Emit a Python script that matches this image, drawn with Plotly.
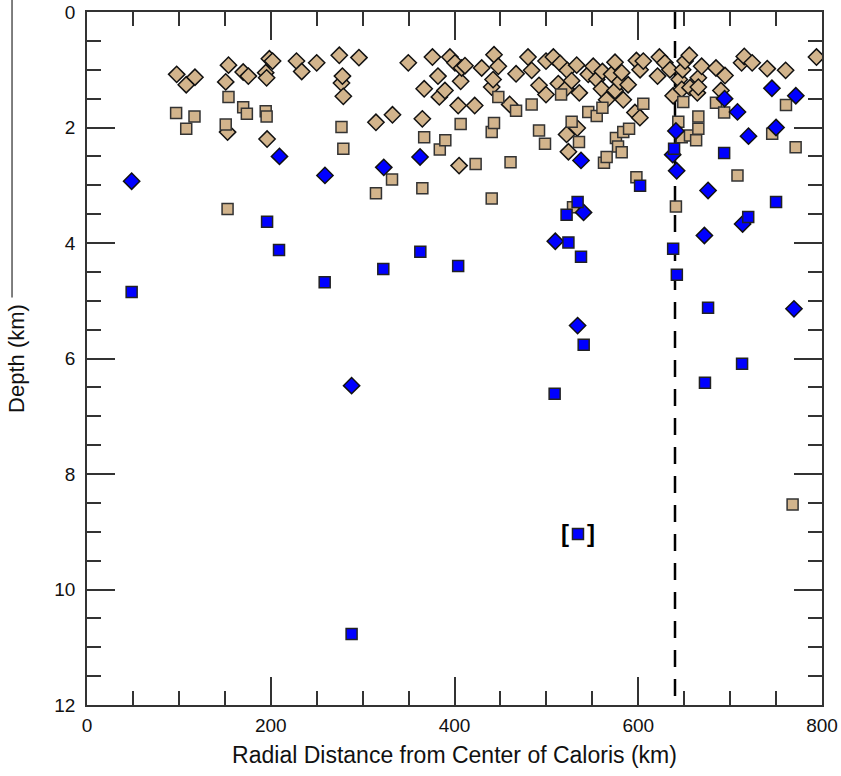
import plotly.graph_objects as go

# ---------------- data (radial distance km, depth km) ----------------
tan_sq_km = [97, 108, 117, 151, 153, 154, 170, 174, 194.5, 195.5, 277, 279, 314.5, 332, 365, 367,
             384, 390, 406.7, 423, 440.5, 440.5, 443, 447.7, 461, 467, 484, 492, 498.5, 516, 527.5,
             529, 535.5, 545.6, 554.8, 561, 562.7, 565.6, 575.7, 578, 582, 583.7, 590, 598, 605.5,
             641, 643.6, 647.3, 649, 656.3, 663, 665.4, 665.4, 684.6, 693.5, 708, 745.8, 760.8,
             771.3, 768]
tan_sq_depth = [1.75, 2.02, 1.81, 1.95, 3.41, 1.47, 1.65, 1.76, 1.72, 1.81, 1.99, 2.37, 3.14, 2.90, 3.05, 2.17,
                2.38, 2.22, 1.94, 2.63, 3.23, 2.08, 1.92, 1.47, 2.60, 1.71, 1.60, 2.05, 2.28, 1.43, 1.90,
                3.38, 2.25, 1.73, 1.80, 1.66, 2.61, 2.51, 2.18, 2.33, 2.43, 2.08, 2.02, 2.86, 1.59,
                3.37, 1.90, 2.17, 1.56, 2.14, 2.22, 1.81, 2.02, 1.57, 1.74, 2.83, 2.11, 1.61,
                2.34, 8.53]

tan_di_km = [97.6, 108, 117.5, 151, 153, 154, 170, 175.6, 194.5, 195.5, 196, 198.5, 202, 228, 233.7, 250,
             274.6, 277, 278, 279, 296, 314.5, 332.5, 349.7, 365, 367, 376, 382, 383.5, 389.6, 395,
             400.5, 404, 405, 406.7, 407.8, 411.4, 422, 429.6, 440.5, 442, 443, 447.7, 460, 467, 480,
             484, 492, 499.6, 499.6, 507.6, 513, 515, 521.3, 522, 522.8, 524, 527.5, 533, 533.6,
             535.8, 545.6, 551, 554.8, 560, 561, 565.6, 571, 574.7, 574.7, 580, 582, 583.7, 589,
             596.4, 598, 601.8, 602, 605.5, 621, 623, 629, 634.5, 638, 644.7, 647.3, 648.3, 651,
             655.6, 656.3, 664.3, 665.4, 665.4, 669, 684.6, 690, 694.4, 712.5, 715.4, 724, 740.4,
             760.4, 794]
tan_di_depth = [1.08, 1.26, 1.13, 1.21, 2.08, 0.92, 1.04, 1.11, 1.05, 1.14, 2.20, 0.81, 0.85, 0.85, 1.03, 0.88,
                0.75, 1.23, 1.11, 1.46, 0.79, 1.91, 1.78, 0.88, 1.85, 1.33, 0.78, 1.11, 1.47, 1.36, 0.78,
                0.88, 1.62, 2.66, 1.20, 0.97, 0.93, 1.62, 0.97, 1.30, 1.17, 0.74, 0.94, 1.60, 1.07, 0.78,
                1.01, 1.27, 0.85, 1.43, 0.78, 1.24, 0.89, 1.33, 2.12, 1.01, 2.42, 1.19, 0.92, 2.01,
                1.40, 1.08, 0.94, 1.17, 1.33, 1.03, 1.52, 1.08, 0.87, 1.36, 1.21, 1.05, 1.52, 1.26,
                1.74, 0.84, 1.83, 1.00, 0.85, 1.11, 0.78, 0.88, 1.00, 1.45, 1.17, 1.34, 1.00, 0.85,
                0.75, 1.31, 1.40, 1.14, 1.30, 0.94, 0.97, 1.36, 1.10, 0.88, 0.77, 0.88, 0.98,
                1.01, 0.78]

blue_sq_km = [48.6, 196, 209, 258.7, 288, 322.5, 362.8, 404, 509, 522, 524, 534, 534.4, 537.7, 540.6,
              602, 638, 639, 642, 672.6, 676, 693.5, 713, 719.7, 750]
blue_sq_depth = [4.85, 3.63, 4.12, 4.68, 10.77, 4.45, 4.15, 4.40, 6.61, 3.51, 3.99, 3.29, 9.04, 4.24, 5.76,
                 3.01, 4.10, 2.37, 4.55, 6.42, 5.12, 2.44, 6.09, 3.55, 3.29]

blue_di_km = [48.6, 209.5, 259, 323, 362.5, 288, 509.7, 534, 537.7, 540.5, 637.5, 641, 641.8, 672, 676,
              694, 708, 713.6, 720, 745.5, 750, 771.5, 769.5]
blue_di_depth = [2.93, 2.50, 2.83, 2.69, 2.51, 6.47, 3.97, 5.43, 2.57, 3.47, 2.47, 2.06, 2.75, 3.87, 3.09,
                 1.50, 1.73, 3.67, 2.15, 1.32, 2.00, 1.45, 5.14]

# uncertain point (shown in brackets)
bracket_km = [534.4]
bracket_depth = [9.04]

RIM_KM = 640  # Caloris rim radius

x_ticks = [0, 200, 400, 600, 800]
y_ticks = [0, 2, 4, 6, 8, 10, 12]

TAN = "#D2B48C"
BLUE = "#0000FF"
FONT = "Liberation Sans, Arial, Helvetica, sans-serif"

fig = go.Figure()

fig.add_trace(go.Scatter(x=tan_di_km, y=tan_di_depth, mode="markers",
                         marker=dict(symbol="diamond", size=12.5, color=TAN,
                                     line=dict(color="#111111", width=1.5))))
fig.add_trace(go.Scatter(x=tan_sq_km, y=tan_sq_depth, mode="markers",
                         marker=dict(symbol="square", size=11, color=TAN,
                                     line=dict(color="#333333", width=1.5))))
fig.add_trace(go.Scatter(x=blue_di_km, y=blue_di_depth, mode="markers",
                         marker=dict(symbol="diamond", size=12.5, color=BLUE,
                                     line=dict(color="#111111", width=1.5))))
fig.add_trace(go.Scatter(x=blue_sq_km, y=blue_sq_depth, mode="markers",
                         marker=dict(symbol="square", size=11, color=BLUE,
                                     line=dict(color="#222222", width=1.5))))

# dashed rim line
fig.add_shape(type="line", xref="x", yref="y", x0=RIM_KM, x1=RIM_KM, y0=0, y1=12,
              line=dict(color="black", width=2.5, dash="17px,12px"), layer="below")

# brackets around uncertain point
for bx, by in zip(bracket_km, bracket_depth):
    fig.add_annotation(x=bx, y=by, xref="x", yref="y", text="<b>[</b>", showarrow=False,
                       xshift=-13, yshift=1, font=dict(family=FONT, size=24, color="black"))
    fig.add_annotation(x=bx, y=by, xref="x", yref="y", text="<b>]</b>", showarrow=False,
                       xshift=13, yshift=1, font=dict(family=FONT, size=24, color="black"))

# stray line above the y title (as in original)
fig.add_shape(type="line", xref="paper", yref="paper", x0=-0.102, x1=-0.102, y0=1.018, y1=0.588,
              line=dict(color="black", width=1))

axis_common = dict(showgrid=False, zeroline=False, showline=True, linecolor="#333333", linewidth=1.5,
                   mirror="allticks", ticks="inside", ticklen=28, tickwidth=1.5, tickcolor="#333333",
                   automargin=False,
                   tickfont=dict(family=FONT, size=19, color="#111111"))

fig.update_layout(
    width=841, height=776,
    margin=dict(l=87, r=19, t=12, b=71, autoexpand=False),
    paper_bgcolor="white", plot_bgcolor="white",
    showlegend=False,
    font=dict(family=FONT),
    xaxis=dict(range=[0, 800], tickvals=x_ticks,
               minor=dict(dtick=50, ticklen=14, ticks="inside", tickwidth=1.5, tickcolor="#333333"),
               title=dict(text="Radial Distance from Center of Caloris (km)",
                          font=dict(family=FONT, size=23, color="#111111"), standoff=12),
               ticklabelstandoff=2, **axis_common),
    yaxis=dict(range=[12, 0], tickvals=y_ticks,
               minor=dict(dtick=0.5, ticklen=14, ticks="inside", tickwidth=1.5, tickcolor="#333333"),
               title=dict(text="Depth (km)", font=dict(family=FONT, size=22, color="#111111"), standoff=24),
               ticklabelstandoff=6, **axis_common),
)

fig.write_html("out.html")
